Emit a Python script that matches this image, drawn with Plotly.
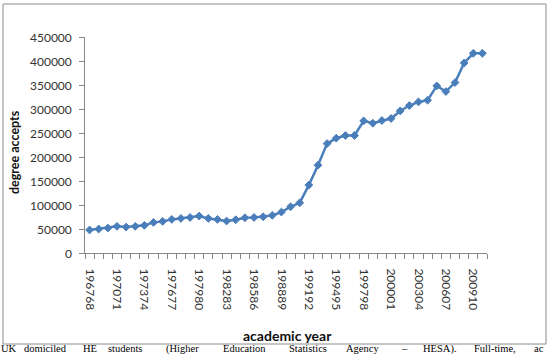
import plotly.graph_objects as go

# ---- data ----
years = [
    "196768", "196869", "196970", "197071", "197172", "197273", "197374", "197475",
    "197576", "197677", "197778", "197879", "197980", "198081", "198182", "198283",
    "198384", "198485", "198586", "198687", "198788", "198889", "198990", "199091",
    "199192", "199293", "199394", "199495", "199596", "199697", "199798", "199899",
    "199900", "200001", "200102", "200203", "200304", "200405", "200506", "200607",
    "200708", "200809", "200910", "201011",
]
accepts = [
    48000, 50000, 52000, 55500, 54000, 55500, 57600, 63800,
    65900, 70000, 72000, 74000, 77000, 72000, 70000, 66600,
    69300, 73400, 74000, 75500, 78400, 85300, 96300, 104600,
    141500, 183000, 228000, 239200, 244800, 244800, 275200, 270400,
    276000, 280200, 296000, 307200, 314800, 318300, 348100, 336400,
    355100, 395900, 416100, 416100,
]
y_ticks = [0, 50000, 100000, 150000, 200000, 250000, 300000, 350000, 400000, 450000]
label_every = 3
x_title = "academic year"
y_title = "degree accepts"
caption_words = [
    ("UK", 0), ("domiciled", 23), ("HE", 82), ("students", 107), ("(Higher", 165),
    ("Education", 222), ("Statistics", 288), ("Agency", 345), ("\u2013", 400),
    ("HESA).", 422), ("Full-time,", 473), ("ac", 533),
]

# ---- layout geometry (pixels) ----
W, H = 551, 355
L, R, T, B = 85, 64, 37, 102
PW, PH = W - L - R, H - T - B


def px_x(px):
    return (px - L) / PW


def px_y(py):
    return 1 - (py - T) / PH


BLUE = "#4A7EBB"
AXIS = "#868686"
TICKFONT = dict(family="Lato, 'Open Sans', sans-serif", size=12, color="#333333")

fig = go.Figure(
    go.Scatter(
        x=years,
        y=accepts,
        mode="lines+markers",
        line=dict(color=BLUE, width=2.5),
        marker=dict(symbol="diamond", size=6, color=BLUE, line=dict(color=BLUE, width=1)),
        cliponaxis=False,
        hoverinfo="x+y",
    )
)

ticktext = [y if i % label_every == 0 else "" for i, y in enumerate(years)]

fig.update_xaxes(
    type="category",
    tickmode="array",
    tickvals=years,
    ticktext=ticktext,
    tickson="boundaries",
    ticks="outside",
    ticklen=5,
    tickcolor=AXIS,
    showline=True,
    linecolor=AXIS,
    linewidth=1,
    showgrid=False,
    zeroline=False,
    tickangle=90,
    tickfont=TICKFONT,
    range=[-0.5, len(years) - 0.5],
    ticklabelstandoff=12,
)
fig.update_yaxes(
    range=[0, 450000],
    tickmode="array",
    tickvals=y_ticks,
    showticklabels=False,
    ticks="outside",
    ticklen=5,
    tickcolor=AXIS,
    showline=True,
    linecolor=AXIS,
    linewidth=1,
    showgrid=False,
    zeroline=False,
)

annotations = [
    dict(
        text=f"<b>{x_title}</b>", x=px_x(287), y=px_y(335), xref="paper", yref="paper",
        xanchor="center", yanchor="middle", showarrow=False,
        font=dict(family="Lato, 'Open Sans', sans-serif", size=14, color="#111111"),
    ),
    dict(
        text=f"<b>{y_title}</b>", x=px_x(14), y=px_y(152), xref="paper", yref="paper",
        xanchor="center", yanchor="middle", showarrow=False, textangle=-90,
        font=dict(family="Lato, 'Open Sans', sans-serif", size=12.5, color="#111111"),
    ),
]
# y tick labels, placed on the y axis scale
for v in y_ticks:
    annotations.append(
        dict(
            text=str(v), x=px_x(73), y=v, xref="paper", yref="y",
            xanchor="right", yanchor="middle", showarrow=False, borderpad=0,
            font=TICKFONT,
        )
    )
for word, xpx in caption_words:
    annotations.append(
        dict(
            text=word, x=px_x(xpx), y=px_y(342), xref="paper", yref="paper",
            xanchor="left", yanchor="top", showarrow=False, borderpad=0,
            font=dict(family="'Liberation Serif', 'Times New Roman', serif", size=10.5, color="#000000"),
        )
    )

fig.update_layout(
    width=W,
    height=H,
    margin=dict(l=L, r=R, t=T, b=B),
    paper_bgcolor="white",
    plot_bgcolor="white",
    showlegend=False,
    annotations=annotations,
    shapes=[
        dict(
            type="rect", xref="paper", yref="paper",
            x0=px_x(3), x1=px_x(546), y0=px_y(344), y1=px_y(4),
            line=dict(color="#8c8c8c", width=1), fillcolor="rgba(0,0,0,0)", layer="below",
        )
    ],
)

fig.write_html("out.html")
